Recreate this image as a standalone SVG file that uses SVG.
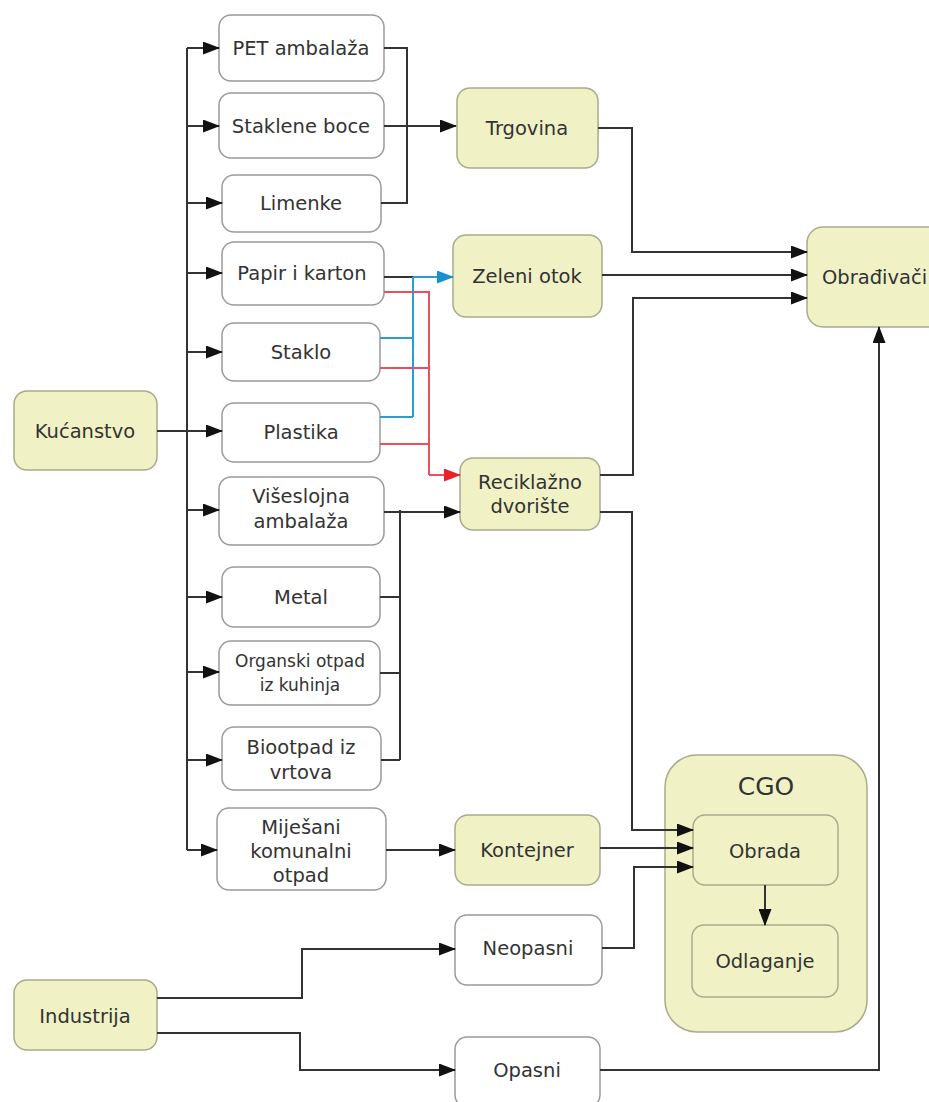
<svg xmlns="http://www.w3.org/2000/svg" width="929" height="1102" viewBox="0 0 929 1102">
<style>
.y{fill:#f0f2c6;stroke:#a9aa8c;stroke-width:1.5}
.w{fill:#fff;stroke:#9a9a9a;stroke-width:1.5}
.t{font-family:"DejaVu Sans",Verdana,sans-serif;font-size:19.5px;fill:#333;text-anchor:middle}
.c{fill:none;stroke:#333;stroke-width:2}
.b{fill:none;stroke:#2a9fcf;stroke-width:2}
.r{fill:none;stroke:#e8505e;stroke-width:2}
</style>
<defs>
<marker id="a" markerUnits="userSpaceOnUse" markerWidth="17" markerHeight="13" refX="16" refY="6.5" orient="auto"><path d="M0,0 L17,6.5 L0,13 z" fill="#111"/></marker>
<marker id="ab" markerUnits="userSpaceOnUse" markerWidth="17" markerHeight="13" refX="16" refY="6.5" orient="auto"><path d="M0,0 L17,6.5 L0,13 z" fill="#1a8fd0"/></marker>
<marker id="ar" markerUnits="userSpaceOnUse" markerWidth="17" markerHeight="13" refX="16" refY="6.5" orient="auto"><path d="M0,0 L17,6.5 L0,13 z" fill="#e8202a"/></marker>
</defs>
<rect width="929" height="1102" fill="#fff"/>

<g id="kucanstvo"><rect class="y" x="14" y="391" width="143" height="79" rx="13"/><text class="t" x="85" y="438">Kućanstvo</text></g>
<g id="industrija"><rect class="y" x="14" y="980" width="143" height="70" rx="13"/><text class="t" x="85" y="1023">Industrija</text></g>

<g id="pet"><rect class="w" x="219" y="15" width="165" height="66" rx="12"/><text class="t" x="301" y="55">PET ambalaža</text></g>
<g id="staklene"><rect class="w" x="219" y="93" width="165" height="65" rx="12"/><text class="t" x="301" y="133">Staklene boce</text></g>
<g id="limenke"><rect class="w" x="222" y="175" width="159" height="57" rx="12"/><text class="t" x="301" y="210">Limenke</text></g>
<g id="papir"><rect class="w" x="222" y="242" width="162" height="63" rx="12"/><text class="t" x="302" y="280">Papir i karton</text></g>
<g id="staklo"><rect class="w" x="222" y="323" width="158" height="58" rx="12"/><text class="t" x="301" y="359">Staklo</text></g>
<g id="plastika"><rect class="w" x="222" y="403" width="158" height="59" rx="12"/><text class="t" x="301" y="439">Plastika</text></g>
<g id="viseslojna"><rect class="w" x="219" y="477" width="165" height="68" rx="12"/><text class="t" x="301" y="503">Višeslojna</text><text class="t" x="301" y="528">ambalaža</text></g>
<g id="metal"><rect class="w" x="222" y="567" width="158" height="60" rx="12"/><text class="t" x="301" y="604">Metal</text></g>
<g id="organski"><rect class="w" x="219" y="641" width="161" height="64" rx="12"/><text class="t" x="300" y="667" style="font-size:17px">Organski otpad</text><text class="t" x="300" y="691" style="font-size:17px">iz kuhinja</text></g>
<g id="biootpad"><rect class="w" x="222" y="727" width="159" height="63" rx="12"/><text class="t" x="301" y="754">Biootpad iz</text><text class="t" x="301" y="779">vrtova</text></g>
<g id="mijesani"><rect class="w" x="217" y="808" width="169" height="82" rx="12"/><text class="t" x="301" y="834">Miješani</text><text class="t" x="301" y="858">komunalni</text><text class="t" x="301" y="882">otpad</text></g>

<g id="trgovina"><rect class="y" x="457" y="88" width="141" height="80" rx="13"/><text class="t" x="527" y="135">Trgovina</text></g>
<g id="zeleni"><rect class="y" x="453" y="235" width="149" height="82" rx="13"/><text class="t" x="527" y="283">Zeleni otok</text></g>
<g id="reciklazno"><rect class="y" x="460" y="458" width="140" height="72" rx="13"/><text class="t" x="530" y="489">Reciklažno</text><text class="t" x="530" y="513">dvorište</text></g>
<g id="kontejner"><rect class="y" x="455" y="815" width="145" height="70" rx="13"/><text class="t" x="527" y="857">Kontejner</text></g>
<g id="neopasni"><rect class="w" x="455" y="915" width="147" height="70" rx="12"/><text class="t" x="528" y="955">Neopasni</text></g>
<g id="opasni"><rect class="w" x="455" y="1037" width="145" height="70" rx="12"/><text class="t" x="527" y="1077">Opasni</text></g>

<g id="obradivaci"><rect class="y" x="807" y="227" width="140" height="100" rx="16"/><text class="t" x="822" y="284" style="text-anchor:start">Obrađivači</text></g>

<g id="cgo"><rect class="y" x="665" y="755" width="202" height="277" rx="32"/><text class="t" x="766" y="795" style="font-size:25px">CGO</text></g>
<g id="obrada"><rect class="y" x="693" y="815" width="145" height="70" rx="12"/><text class="t" x="765" y="858">Obrada</text></g>
<g id="odlaganje"><rect class="y" x="692" y="925" width="146" height="72" rx="12"/><text class="t" x="765" y="968">Odlaganje</text></g>

<g id="connectors">
<path class="c" d="M187,48 V850" stroke-width="2.5"/>
<path class="c" marker-end="url(#a)" d="M187,48 H219"/>
<path class="c" marker-end="url(#a)" d="M187,126 H219"/>
<path class="c" marker-end="url(#a)" d="M187,203 H222"/>
<path class="c" marker-end="url(#a)" d="M187,273 H222"/>
<path class="c" marker-end="url(#a)" d="M187,352 H222"/>
<path class="c" marker-end="url(#a)" d="M157,431 H222"/>
<path class="c" marker-end="url(#a)" d="M187,510 H219"/>
<path class="c" marker-end="url(#a)" d="M187,597 H222"/>
<path class="c" marker-end="url(#a)" d="M187,672 H219"/>
<path class="c" marker-end="url(#a)" d="M187,760 H222"/>
<path class="c" marker-end="url(#a)" d="M187,850 H217"/>

<path class="c" d="M384,48 H407 V203 H381"/>
<path class="c" marker-end="url(#a)" d="M384,126 H456"/>

<path class="c" stroke="#3a6f8f" d="M384,277 H413"/>
<path class="b" stroke="#3a7fa0" d="M380,338 H413"/>
<path class="b" stroke="#3a7fa0" d="M380,417 H413"/>
<path class="b" d="M413,417 V277"/>
<path class="b" marker-end="url(#ab)" d="M413,277 H453"/>

<path class="r" d="M384,292 H429 V475"/>
<path class="r" d="M380,368 H429"/>
<path class="r" d="M380,444 H429"/>
<path class="r" marker-end="url(#ar)" d="M429,475 H460"/>

<path class="c" d="M384,512 H400"/>
<path class="c" d="M400,510 V760" stroke-width="2.5"/>
<path class="c" d="M380,597 H400"/>
<path class="c" d="M380,673 H400"/>
<path class="c" d="M381,760 H400"/>
<path class="c" marker-end="url(#a)" d="M400,512 H460"/>

<path class="c" marker-end="url(#a)" d="M598,128 H632 V252 H807"/>
<path class="c" marker-end="url(#a)" d="M602,275 H807"/>
<path class="c" marker-end="url(#a)" d="M600,475 H633 V298 H807"/>

<path class="c" marker-end="url(#a)" d="M600,512 H632 V830 H693"/>
<path class="c" marker-end="url(#a)" d="M386,850 H455"/>
<path class="c" marker-end="url(#a)" d="M600,848 H693"/>
<path class="c" marker-end="url(#a)" d="M602,948 H634 V867 H693"/>
<path class="c" marker-end="url(#a)" d="M765,885 V925"/>

<path class="c" marker-end="url(#a)" d="M157,998 H302 V949 H455"/>
<path class="c" marker-end="url(#a)" d="M157,1033 H300 V1070 H455"/>
<path class="c" marker-end="url(#a)" d="M600,1070 H879 V327"/>
</g>
</svg>
